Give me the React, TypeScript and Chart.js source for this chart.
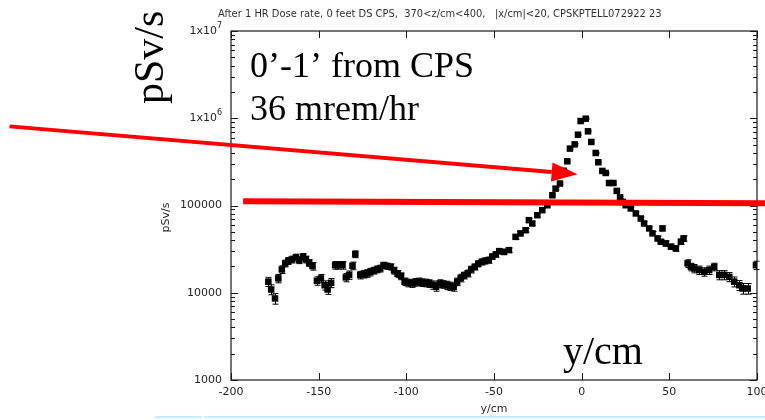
import { useEffect, useRef } from 'react';
import { Chart, registerables } from 'chart.js';

Chart.register(...registerables);

const TITLE =
  'After 1 HR Dose rate, 0 feet DS CPS,  370<z/cm<400,   |x/cm|<20, CPSKPTELL072922 23';

// Transverse position (cm)
const positions = [
  -178.7, -177.1, -174.9, -173.0, -171.0, -169.1, -167.3, -165.3, -163.0, -161.1,
  -158.9, -157.3, -155.4, -153.5, -151.0, -148.7, -146.6, -144.9, -142.9, -140.6,
  -138.7, -136.4, -134.5, -132.6, -130.7, -129.1, -126.3, -124.4, -122.5, -120.5,
  -118.5, -116.5, -114.9, -113.0, -111.0, -109.0, -107.0, -105.0, -103.0, -101.0,
  -99.0, -97.0, -95.0, -93.0, -91.0, -89.0, -87.0, -85.0, -83.0, -81.0,
  -79.0, -77.0, -75.0, -73.0, -71.0, -69.0, -67.0, -65.0, -63.0, -61.0,
  -59.0, -57.0, -55.0, -53.0, -51.0, -49.0, -47.0, -44.4, -41.5, -37.7,
  -34.9, -32.0, -30.1, -28.2, -25.3, -22.5, -19.6, -16.7, -14.9, -12.4,
  -10.3, -8.2, -6.7, -4.0, -2.1, -0.6, 2.3, 3.6, 5.5, 8.0,
  9.5, 11.8, 13.7, 15.6, 18.1, 20.0, 21.9, 23.5, 25.1, 28.0,
  30.9, 33.7, 35.6, 38.5, 40.4, 43.3, 45.1, 46.1, 48.0, 50.9,
  53.7, 56.6, 58.1, 60.4, 62.3, 64.2, 67.0, 69.9, 72.7, 75.6,
  78.5, 81.3, 84.2, 87.0, 89.9, 91.8, 94.7, 99.4,
];

// Dose rate (pSv/s)
const doseRates = [
  13400, 10900, 8600, 14600, 18500, 21700, 23200, 24100, 25400, 23700,
  25800, 24100, 22000, 20200, 13700, 14600, 12200, 10900, 13000, 20700,
  20700, 20700, 15000, 16000, 20400, 27700, 16000, 16400, 16700, 17300,
  18000, 18600, 19000, 20700, 20200, 19800, 18000, 16500, 15500, 13400,
  13000, 12800, 13200, 13400, 13100, 13000, 12800, 12300, 11700, 12800,
  12500, 12200, 11900, 11700, 13400, 14800, 15800, 16700, 18500, 19800,
  21500, 22600, 23200, 23700, 26000, 27500, 30000, 29400, 30800, 43700,
  47900, 52100, 67900, 62200, 77400, 88300, 100700, 131000, 156000, 178500,
  250000, 321000, 449000, 502000, 648000, 929000, 989000, 708000, 535000, 400000,
  313000, 249000, 236000, 181000, 181000, 147000, 124000, 110000, 100700, 92500,
  81100, 71000, 62200, 54600, 47900, 41900, 38400, 54600, 36700, 33700,
  32200, 38400, 41900, 21700, 19800, 19000, 18200, 17400, 18200, 19800,
  16000, 16000, 15200, 13400, 12200, 11200, 11200, 20700,
];

// Statistical uncertainty (% of value)
const relErrPct = [
  12, 13, 14, 11, 10, 9, 9, 9, 9, 9,
  9, 9, 9, 10, 11, 11, 12, 12, 12, 10,
  10, 10, 11, 11, 10, 9, 10, 10, 10, 10,
  9, 9, 9, 8, 8, 8, 9, 9, 9, 10,
  10, 10, 10, 10, 10, 10, 10, 11, 11, 10,
  10, 11, 11, 11, 10, 10, 9, 9, 9, 8,
  8, 8, 8, 8, 7, 7, 7, 7, 6, 6,
  6, 5, 5, 5, 5, 4, 4, 3, 3, 3,
  3, 3, 2, 2, 2, 2, 2, 2, 2, 2,
  2, 2, 2, 3, 3, 3, 3, 3, 4, 4,
  4, 4, 5, 5, 5, 6, 6, 6, 7, 7,
  7, 7, 7, 10, 10, 11, 11, 11, 11, 10,
  12, 12, 12, 13, 13, 14, 14, 11,
];

const xTicks = [-200, -150, -100, -50, 0, 50, 100];
const yDecades = [1000, 10000, 100000, 1000000, 10000000];
const yTickText = ['1000', '10000', '100000', '1x10|6', '1x10|7'];

// Slide annotations, in data units
const guideLine = { x0: -193.1, y0: 112000, x1: 105.1, y1: 106000 };
const pointer = { x0: -326.3, y0: 807000, x1: -2.3, y1: 228000 };

const AXIS_FONT = '"DejaVu Sans", sans-serif';
const SERIF = '"Liberation Serif", "DejaVu Serif", serif';

const decorPlugin = {
  id: 'decor',
  beforeDraw(chart: any) {
    const ctx = chart.ctx;
    ctx.save();
    ctx.fillStyle = '#ffffff';
    ctx.fillRect(0, 0, chart.width, chart.height);
    ctx.restore();
  },
  beforeDatasetsDraw(chart: any) {
    const ctx = chart.ctx;
    const xs = chart.scales.x;
    const ys = chart.scales.y;
    ctx.save();
    ctx.strokeStyle = '#000000';
    ctx.lineWidth = 1;
    ctx.beginPath();
    positions.forEach((p, i) => {
      const v = doseRates[i];
      const e = (v * relErrPct[i]) / 100;
      const px = Math.round(xs.getPixelForValue(p)) + 0.5;
      const top = ys.getPixelForValue(v + e);
      const bot = ys.getPixelForValue(v - e);
      ctx.moveTo(px, top);
      ctx.lineTo(px, bot);
      ctx.moveTo(px - 3, top);
      ctx.lineTo(px + 3, top);
      ctx.moveTo(px - 3, bot);
      ctx.lineTo(px + 3, bot);
    });
    ctx.stroke();
    ctx.restore();
  },
  afterDraw(chart: any) {
    const ctx = chart.ctx;
    const xs = chart.scales.x;
    const ys = chart.scales.y;
    const { left, right, top, bottom } = chart.chartArea;
    ctx.save();

    // frame
    ctx.strokeStyle = '#1a1a1a';
    ctx.lineWidth = 1.2;
    ctx.strokeRect(left, top, right - left, bottom - top);

    // x ticks (inward, bottom and top)
    ctx.lineWidth = 1;
    ctx.beginPath();
    xTicks.forEach((t) => {
      const px = Math.round(xs.getPixelForValue(t)) + 0.5;
      ctx.moveTo(px, bottom);
      ctx.lineTo(px, bottom - 7);
      ctx.moveTo(px, top);
      ctx.lineTo(px, top + 7);
    });
    // y ticks (log, major + minor, inward on both sides)
    for (let d = 0; d < yDecades.length; d++) {
      const base = yDecades[d];
      const py = Math.round(ys.getPixelForValue(base)) + 0.5;
      ctx.moveTo(left, py);
      ctx.lineTo(left + 7, py);
      ctx.moveTo(right, py);
      ctx.lineTo(right - 7, py);
      if (d < yDecades.length - 1) {
        for (let m = 2; m <= 9; m++) {
          const my = Math.round(ys.getPixelForValue(base * m)) + 0.5;
          ctx.moveTo(left, my);
          ctx.lineTo(left + 4, my);
          ctx.moveTo(right, my);
          ctx.lineTo(right - 4, my);
        }
      }
    }
    ctx.stroke();

    // tick labels
    ctx.fillStyle = '#262626';
    ctx.font = `11px ${AXIS_FONT}`;
    ctx.textAlign = 'center';
    ctx.textBaseline = 'top';
    xTicks.forEach((t) => {
      ctx.fillText(String(t), xs.getPixelForValue(t), bottom + 7);
    });
    ctx.textBaseline = 'middle';
    yDecades.forEach((v, i) => {
      const py = ys.getPixelForValue(v);
      const txt = yTickText[i];
      const xr = left - 9;
      if (txt.includes('|')) {
        const [mant, exp] = txt.split('|');
        ctx.font = `8px ${AXIS_FONT}`;
        const ew = ctx.measureText(exp).width;
        ctx.textAlign = 'right';
        ctx.fillText(exp, xr, py - 5);
        ctx.font = `11px ${AXIS_FONT}`;
        ctx.fillText(mant, xr - ew, py);
      } else {
        ctx.font = `11px ${AXIS_FONT}`;
        ctx.textAlign = 'right';
        ctx.fillText(txt, xr, py);
      }
    });

    // axis titles
    ctx.font = `11px ${AXIS_FONT}`;
    ctx.textAlign = 'center';
    ctx.textBaseline = 'alphabetic';
    ctx.fillText('y/cm', (left + right) / 2, 412);
    ctx.save();
    ctx.translate(169, (top + bottom) / 2 + 12);
    ctx.rotate(-Math.PI / 2);
    ctx.fillText('pSv/s', 0, 0);
    ctx.restore();

    // title, fitted to its run across the top
    ctx.font = `10px ${AXIS_FONT}`;
    const w10 = ctx.measureText(TITLE).width;
    const fs = (10 * 444) / w10;
    ctx.font = `${fs.toFixed(2)}px ${AXIS_FONT}`;
    ctx.textAlign = 'left';
    ctx.fillStyle = '#333333';
    ctx.fillText(TITLE, 218, 17);

    // big slide labels
    ctx.fillStyle = '#000000';
    ctx.font = `36px ${SERIF}`;
    ctx.textAlign = 'left';
    ctx.fillText('0\u2019-1\u2019 from CPS', 250, 77);
    ctx.fillText('36 mrem/hr', 250, 120);
    ctx.font = `40px ${SERIF}`;
    ctx.fillText('y/cm', 563, 364);
    ctx.font = `42px ${SERIF}`;
    ctx.save();
    ctx.translate(163, 104);
    ctx.rotate(-Math.PI / 2);
    ctx.fillText('pSv/s', 0, 0);
    ctx.restore();

    // red guide line
    ctx.strokeStyle = '#ff0000';
    ctx.lineCap = 'butt';
    ctx.lineWidth = 6;
    ctx.beginPath();
    ctx.moveTo(xs.getPixelForValue(guideLine.x0), ys.getPixelForValue(guideLine.y0));
    ctx.lineTo(xs.getPixelForValue(guideLine.x1), ys.getPixelForValue(guideLine.y1));
    ctx.stroke();

    // red pointer arrow
    const ax0 = xs.getPixelForValue(pointer.x0);
    const ay0 = ys.getPixelForValue(pointer.y0);
    const ax1 = xs.getPixelForValue(pointer.x1);
    const ay1 = ys.getPixelForValue(pointer.y1);
    const ang = Math.atan2(ay1 - ay0, ax1 - ax0);
    const headLen = 26;
    const headHalf = 9.5;
    const bx = ax1 - headLen * Math.cos(ang);
    const by = ay1 - headLen * Math.sin(ang);
    ctx.lineWidth = 4;
    ctx.beginPath();
    ctx.moveTo(ax0, ay0);
    ctx.lineTo(bx, by);
    ctx.stroke();
    ctx.fillStyle = '#ff0000';
    ctx.beginPath();
    ctx.moveTo(ax1, ay1);
    ctx.lineTo(bx - headHalf * Math.sin(ang), by + headHalf * Math.cos(ang));
    ctx.lineTo(bx + headHalf * Math.sin(ang), by - headHalf * Math.cos(ang));
    ctx.closePath();
    ctx.fill();

    // slide footer rule
    ctx.strokeStyle = '#c4ecff';
    ctx.lineWidth = 2;
    ctx.beginPath();
    ctx.moveTo(155, 417);
    ctx.lineTo(201, 417);
    ctx.moveTo(204, 417);
    ctx.lineTo(765, 417);
    ctx.stroke();

    ctx.restore();
  },
};

export default function App() {
  const canvasRef = useRef<HTMLCanvasElement | null>(null);

  useEffect(() => {
    const canvas = canvasRef.current;
    if (!canvas) return;
    const chart = new Chart(canvas, {
      type: 'scatter',
      data: {
        datasets: [
          {
            data: positions.map((x, i) => ({ x, y: doseRates[i] })),
            pointStyle: 'rect',
            pointRadius: 4.6,
            pointHoverRadius: 4.6,
            backgroundColor: '#000000',
            borderColor: '#000000',
            borderWidth: 0,
            showLine: false,
          },
        ],
      },
      options: {
        responsive: false,
        animation: false,
        layout: { padding: { left: 231, right: 8, top: 31, bottom: 40 } },
        scales: {
          x: { type: 'linear', min: -200, max: 100, display: false },
          y: { type: 'logarithmic', min: 1000, max: 10000000, display: false },
        },
        plugins: {
          legend: { display: false },
          tooltip: { enabled: false },
          title: { display: false },
        },
      },
      plugins: [decorPlugin],
    });
    return () => chart.destroy();
  }, []);

  return (
    <div style={{ position: 'absolute', left: 0, top: 0, width: 765, height: 420 }}>
      <canvas ref={canvasRef} width={765} height={420} />
    </div>
  );
}
